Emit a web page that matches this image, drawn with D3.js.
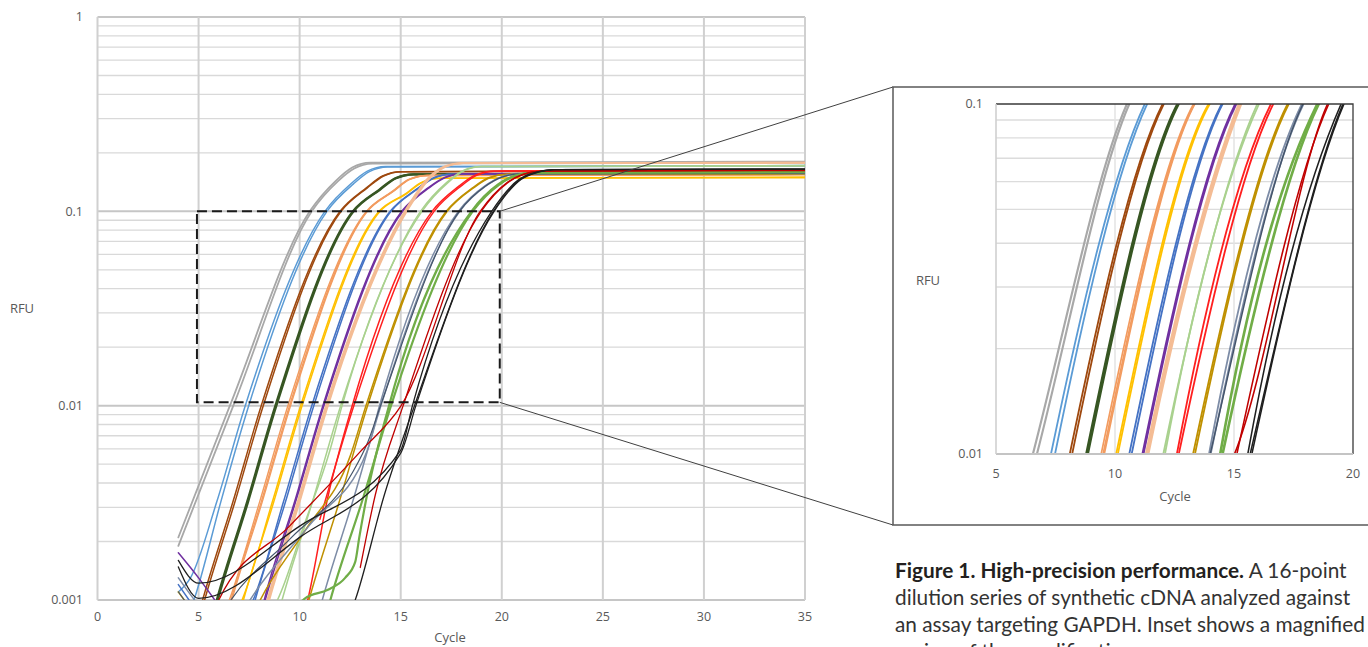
<!DOCTYPE html>
<html>
<head>
<meta charset="utf-8">
<script src="https://cdn.jsdelivr.net/npm/d3@7"></script>
<style>
  body { margin: 0; background: #fff; }
  svg { display: block; }
  .tick { font-family: 'Open Sans', sans-serif; font-size: 12.5px; fill: #595959; }
  .title { font-family: 'Open Sans', sans-serif; font-size: 13px; fill: #595959; }
  .caption { font-family: Lato, sans-serif; font-size: 20.8px; fill: #333; }
</style>
</head>
<body>
<svg id="chart" width="1368" height="647"></svg>
<script>

// amplification curves, [cycle, RFU] points, one array per replicate
const gray = [
	[[4,0.0021],[6.55,0.01],[10.5,0.1],[11.8,0.144],[12.6,0.168],[13.5,0.178],[35,0.180]],
	[[4,0.0019],[6.72,0.01],[10.6,0.1],[11.9,0.143],[12.7,0.166],[13.6,0.176],[35,0.178]]
];
const lightBlue = [
	[[4,0.0011],[4.6,0.0013],[5.9,0.0032],[7.31,0.01],[11.25,0.1],[12.55,0.139],[13.35,0.161],[14.25,0.170],[35,0.172]],
	[[4,0.0006],[4.9,0.0011],[6.1,0.0032],[7.48,0.01],[11.35,0.1],[12.65,0.138],[13.45,0.160],[14.35,0.169],[35,0.171]]
];
const brown = [
	[[4.8,0.0007],[5.2,0.001],[6.7,0.0032],[8.1,0.01],[12.0,0.1],[13.3,0.132],[14.1,0.152],[15.0,0.160],[35,0.162]],
	[[4.9,0.0007],[5.3,0.001],[6.8,0.0032],[8.2,0.01],[12.05,0.1],[13.35,0.132],[14.15,0.152],[15.05,0.160],[35,0.161]]
];
const darkGreen = [
	[[5.5,0.0007],[5.9,0.001],[7.4,0.0032],[8.8,0.01],[12.63,0.1],[13.93,0.129],[14.73,0.148],[15.63,0.155],[35,0.157]],
	[[5.55,0.0007],[5.95,0.001],[7.45,0.0032],[8.85,0.01],[12.67,0.1],[13.97,0.129],[14.77,0.148],[15.67,0.155],[35,0.157]]
];
const orange = [
	[[4,0.001],[4.6,0.0009],[5.6,0.0006],[6.52,0.001],[8.02,0.0032],[9.42,0.01],[13.3,0.1],[14.6,0.127],[15.4,0.146],[16.3,0.153],[35,0.155]],
	[[6.2,0.0007],[6.6,0.001],[8.1,0.0032],[9.5,0.01],[13.33,0.1],[14.63,0.127],[15.43,0.146],[16.33,0.153],[35,0.154]],
	[[6.25,0.0007],[6.65,0.001],[8.15,0.0032],[9.55,0.01],[13.35,0.1],[14.65,0.127],[15.45,0.146],[16.35,0.153],[35,0.155]]
];
const yellow = [
	[[4,0.0011],[4.6,0.0009],[5.6,0.0006],[7.15,0.001],[8.65,0.0032],[10.05,0.01],[13.93,0.1],[15.23,0.123],[16.03,0.141],[16.93,0.148],[35,0.150]],
	[[6.82,0.0007],[7.22,0.001],[8.72,0.0032],[10.12,0.01],[13.98,0.1],[15.28,0.123],[16.08,0.141],[16.98,0.148],[35,0.149]]
];
const blue = [
	[[4,0.0012],[5,0.00085],[6,0.0006],[7.7,0.001],[9.2,0.0032],[10.6,0.01],[14.48,0.1],[15.78,0.13],[16.58,0.148],[17.48,0.155],[35,0.157]],
	[[7.4,0.0007],[7.8,0.001],[9.3,0.0032],[10.7,0.01],[14.52,0.1],[15.82,0.13],[16.62,0.148],[17.52,0.155],[35,0.156]]
];
const purple = [
	[[4,0.00175],[5,0.0013],[5.8,0.001],[6.8,0.0007],[7.9,0.0007],[8.25,0.001],[9.75,0.0032],[11.15,0.01],[15.05,0.1],[16.35,0.132],[17.15,0.149],[18.05,0.156],[35,0.158]],
	[[7.9,0.0007],[8.3,0.001],[9.8,0.0032],[11.2,0.01],[15.1,0.1],[16.4,0.132],[17.2,0.149],[18.1,0.156],[35,0.158]]
];
const peach = [
	[[8.0,0.0007],[8.4,0.001],[9.9,0.0032],[11.3,0.01],[15.2,0.1],[16.4,0.150],[17.2,0.171],[18.0,0.177],[35,0.178]],
	[[8.05,0.0007],[8.45,0.001],[9.95,0.0032],[11.35,0.01],[15.25,0.1],[16.45,0.150],[17.25,0.171],[18.05,0.177],[35,0.178]],
	[[8.1,0.0007],[8.5,0.001],[10.0,0.0032],[11.4,0.01],[15.3,0.1],[16.5,0.150],[17.3,0.171],[18.1,0.177],[35,0.177]]
];
const lightGreen = [
	[[8.73,0.0007],[9.13,0.001],[10.63,0.0032],[12.03,0.01],[15.98,0.1],[17.28,0.141],[18.08,0.162],[18.98,0.170],[35,0.172]],
	[[8.3,0.0008],[8.9,0.001],[10.2,0.0024],[11.5,0.0059],[12.1,0.01],[16.05,0.1],[17.35,0.141],[18.15,0.162],[19.05,0.170],[35,0.171]]
];
const red = [
	[[10.0,0.0007],[10.4,0.001],[11.4,0.0034],[12.6,0.01],[16.55,0.1],[17.85,0.134],[18.65,0.153],[19.55,0.161],[35,0.163]],
	[[11.0,0.0026],[12.68,0.01],[16.65,0.1],[17.95,0.134],[18.75,0.153],[19.65,0.161],[35,0.163]]
];
const darkGold = [
	[[7.6,0.0008],[8.05,0.001],[10.3,0.0023],[12.5,0.0055],[13.28,0.01],[17.25,0.1],[18.55,0.132],[19.35,0.149],[20.25,0.155],[35,0.157]],
	[[10.06,0.0007],[10.46,0.001],[11.96,0.0032],[13.36,0.01],[17.3,0.1],[18.6,0.132],[19.4,0.149],[20.3,0.155],[35,0.156]]
];
const slate = [
	[[4,0.0013],[4.8,0.001],[5.6,0.0008],[7.0,0.0008],[7.55,0.001],[10.45,0.0024],[13.35,0.0059],[13.95,0.01],[17.85,0.1],[19.15,0.135],[19.95,0.150],[20.85,0.156],[35,0.158]],
	[[10.72,0.0007],[11.12,0.001],[12.62,0.0032],[14.02,0.01],[17.92,0.1],[19.22,0.135],[20.02,0.150],[20.92,0.156],[35,0.157]]
];
const navy = [
	[[4,0.0011],[4.7,0.0009],[6,0.0008],[6.6,0.001],[9.6,0.0021],[12.6,0.0045],[13.4,0.0066],[14.0,0.01],[17.9,0.1],[19.2,0.135],[20.0,0.150],[20.9,0.156],[35,0.157]]
];
const green = [
	[[9.8,0.0009],[10.27,0.00102],[11.4,0.00113],[12.25,0.0013],[12.75,0.00157],[12.95,0.0021],[13.34,0.0035],[14.42,0.01],[18.5,0.1],[19.8,0.137],[20.6,0.152],[21.5,0.158],[35,0.160]],
	[[11.12,0.0007],[11.52,0.001],[13.12,0.0033],[14.52,0.01],[18.56,0.1],[19.86,0.137],[20.66,0.152],[21.56,0.158],[35,0.159]]
];
const darkRed = [
	[[5.6,0.0008],[6.0,0.001],[9.5,0.0024],[13.0,0.0058],[15.02,0.01],[18.93,0.1],[20.23,0.140],[21.03,0.155],[21.93,0.161],[35,0.163]],
	[[13.0,0.00147],[13.75,0.0035],[15.12,0.01],[18.98,0.1],[20.28,0.140],[21.08,0.155],[21.98,0.161],[35,0.162]]
];
const black = [
	[[4,0.0016],[5,0.00122],[10,0.0024],[15,0.0059],[15.58,0.01],[19.5,0.1],[20.85,0.146],[21.7,0.159],[22.5,0.164],[35,0.165]],
	[[4,0.00148],[5,0.00102],[10,0.0021],[15,0.0057],[15.75,0.01],[19.62,0.1],[20.95,0.146],[21.8,0.159],[22.6,0.164],[35,0.165]],
	[[12.4,0.0008],[12.75,0.001],[14.2,0.0035],[15.68,0.01],[19.58,0.1],[20.9,0.146],[21.75,0.159],[22.55,0.164],[35,0.165]]
];

const levelData = [gray, lightBlue, brown, darkGreen, orange, yellow, blue, purple, peach,
	lightGreen, red, darkGold, slate, navy, green, darkRed, black];
const levelColors = ['#a8a8a8', '#5b9bd5', '#9e480e', '#375623', '#f29b5f', '#ffc000', '#4472c4', '#7030a0', '#f4bc94',
	'#a9d18e', '#ff1f1f', '#bf9000', '#7d8ca6', '#44546a', '#70ad47', '#c00000', '#1f1f1f'];
const levelWidths = [1.8, 1.5, 1.5, 2.2, 1.4, 1.5, 1.5, 1.5, 1.8, 1.5, 1.5, 1.5, 1.5, 1.2, 2.2, 1.3, 1.3];

const xTicks = [0, 5, 10, 15, 20, 25, 30, 35];
const yTicks = [0.001, 0.01, 0.1, 1];
const yTickLabels = ['0.001', '0.01', '0.1', '1'];
const insetXTicks = [5, 10, 15, 20];
const insetYTicks = [0.01, 0.1];
const insetYTickLabels = ['0.01', '0.1'];
const zoomCycles = [4.92, 19.9];
const zoomRfu = [0.0104, 0.1];

const captionLines = [
	['Figure 1. High-precision performance.', ' A 16-point'],
	['', 'dilution series of synthetic cDNA analyzed against'],
	['', 'an assay targeting GAPDH. Inset shows a magnified'],
	['', 'region of the amplification curves.']
];

const svg = d3.select('#chart');
const defs = svg.append('defs');

const mainX = d3.scaleLinear().domain([0, 35]).range([97.5, 805]);
const mainY = d3.scaleLog().domain([0.001, 1]).range([600, 17]);
const insetX = d3.scaleLinear().domain([5, 20]).range([996, 1353]);
const insetY = d3.scaleLog().domain([0.01, 0.1]).range([454, 104]);

const isMajor = v => Math.abs(Math.log10(v) - Math.round(Math.log10(v))) < 1e-9;

const drawCurves = (x, y, clipId, widthScale) => {
	const [x0, x1] = x.range();
	const [y0, y1] = y.range();
	defs.append('clipPath').attr('id', clipId)
		.append('rect')
		.attr('x', x0).attr('y', y1)
		.attr('width', x1 - x0).attr('height', y0 - y1);

	const line = d3.line()
		.x(d => x(d[0]))
		.y(d => y(d[1]))
		.curve(d3.curveMonotoneX);

	const g = svg.append('g').attr('clip-path', `url(#${clipId})`);
	levelData.forEach((reps, i) => {
		g.selectAll(null)
			.data(reps)
			.join('path')
			.attr('d', line)
			.attr('fill', 'none')
			.attr('stroke', levelColors[i])
			.attr('stroke-width', levelWidths[i] * widthScale)
			.attr('stroke-linejoin', 'round')
			.attr('stroke-linecap', 'round');
	});
};

// ---- main chart
const mainGrid = svg.append('g');

mainGrid.selectAll(null)
	.data(mainY.ticks().filter(v => !isMajor(v)))
	.join('line')
	.attr('x1', mainX(0)).attr('x2', mainX(35))
	.attr('y1', d => mainY(d)).attr('y2', d => mainY(d))
	.attr('stroke', '#d9d9d9')
	.attr('stroke-width', 1.3);

mainGrid.selectAll(null)
	.data(yTicks)
	.join('line')
	.attr('x1', mainX(0)).attr('x2', mainX(35))
	.attr('y1', d => mainY(d)).attr('y2', d => mainY(d))
	.attr('stroke', '#c6c6c6')
	.attr('stroke-width', 2);

mainGrid.selectAll(null)
	.data(xTicks)
	.join('line')
	.attr('x1', d => mainX(d)).attr('x2', d => mainX(d))
	.attr('y1', mainY(1)).attr('y2', mainY(0.001))
	.attr('stroke', '#d0d0d0')
	.attr('stroke-width', 2);

drawCurves(mainX, mainY, 'clip-main', 1);

svg.selectAll(null)
	.data(yTicks)
	.join('text')
	.attr('class', 'tick')
	.attr('x', 83)
	.attr('y', d => mainY(d))
	.attr('dy', '0.35em')
	.attr('text-anchor', 'end')
	.text((d, i) => yTickLabels[i]);

svg.selectAll(null)
	.data(xTicks)
	.join('text')
	.attr('class', 'tick')
	.attr('x', d => mainX(d))
	.attr('y', 617)
	.attr('dy', '0.35em')
	.attr('text-anchor', 'middle')
	.text(d => d);

svg.append('text').attr('class', 'title')
	.attr('x', 22).attr('y', 308).attr('dy', '0.35em')
	.attr('text-anchor', 'middle').text('RFU');

svg.append('text').attr('class', 'title')
	.attr('x', 450).attr('y', 637).attr('dy', '0.35em')
	.attr('text-anchor', 'middle').text('Cycle');

// zoom box and leader lines
const zx0 = mainX(zoomCycles[0]);
const zx1 = mainX(zoomCycles[1]);
const zyTop = mainY(zoomRfu[1]);
const zyBot = mainY(zoomRfu[0]);

svg.append('rect')
	.attr('x', zx0).attr('y', zyTop)
	.attr('width', zx1 - zx0).attr('height', zyBot - zyTop)
	.attr('fill', 'none')
	.attr('stroke', '#1a1a1a')
	.attr('stroke-width', 2)
	.attr('stroke-dasharray', '10,5');

const boxLeft = 893, boxTop = 87, boxBottom = 525;

svg.append('line')
	.attr('x1', zx1).attr('y1', zyTop).attr('x2', boxLeft).attr('y2', boxTop)
	.attr('stroke', '#404040').attr('stroke-width', 1);
svg.append('line')
	.attr('x1', zx1).attr('y1', zyBot).attr('x2', boxLeft).attr('y2', boxBottom)
	.attr('stroke', '#404040').attr('stroke-width', 1);

// ---- inset
svg.append('rect')
	.attr('x', boxLeft).attr('y', boxTop)
	.attr('width', 520).attr('height', boxBottom - boxTop)
	.attr('fill', '#fff')
	.attr('stroke', '#595959')
	.attr('stroke-width', 1.5);

const insetGrid = svg.append('g');

insetGrid.selectAll(null)
	.data(insetY.ticks().filter(v => !isMajor(v)))
	.join('line')
	.attr('x1', insetX(5)).attr('x2', insetX(20))
	.attr('y1', d => insetY(d)).attr('y2', d => insetY(d))
	.attr('stroke', '#dcdcdc')
	.attr('stroke-width', 1.4);

insetGrid.selectAll(null)
	.data([10, 15])
	.join('line')
	.attr('x1', d => insetX(d)).attr('x2', d => insetX(d))
	.attr('y1', insetY(0.1)).attr('y2', insetY(0.01))
	.attr('stroke', '#e3e3e3')
	.attr('stroke-width', 1.5);

drawCurves(insetX, insetY, 'clip-inset', 1.2);

// inset frame: dark on top and right, grey axes on left and bottom
svg.append('path')
	.attr('d', `M${insetX(5)},${insetY(0.1)}H${insetX(20)}V${insetY(0.01)}`)
	.attr('fill', 'none')
	.attr('stroke', '#3a3a3a')
	.attr('stroke-width', 1.3);
svg.append('line')
	.attr('x1', insetX(5)).attr('x2', insetX(20))
	.attr('y1', insetY(0.01)).attr('y2', insetY(0.01))
	.attr('stroke', '#c4c4c4').attr('stroke-width', 2);
svg.append('line')
	.attr('x1', insetX(5)).attr('x2', insetX(5))
	.attr('y1', insetY(0.1)).attr('y2', insetY(0.01))
	.attr('stroke', '#d0d0d0').attr('stroke-width', 1.6);

svg.selectAll(null)
	.data(insetYTicks)
	.join('text')
	.attr('class', 'tick')
	.attr('x', 983)
	.attr('y', d => insetY(d))
	.attr('dy', '0.35em')
	.attr('text-anchor', 'end')
	.text((d, i) => insetYTickLabels[i]);

svg.selectAll(null)
	.data(insetXTicks)
	.join('text')
	.attr('class', 'tick')
	.attr('x', d => insetX(d))
	.attr('y', 474)
	.attr('dy', '0.35em')
	.attr('text-anchor', 'middle')
	.text(d => d);

svg.append('text').attr('class', 'title')
	.attr('x', 928).attr('y', 280).attr('dy', '0.35em')
	.attr('text-anchor', 'middle').text('RFU');

svg.append('text').attr('class', 'title')
	.attr('x', 1175).attr('y', 496).attr('dy', '0.35em')
	.attr('text-anchor', 'middle').text('Cycle');

// ---- caption (the last line runs off the bottom edge, as in the source figure)
const caption = svg.append('text').attr('class', 'caption');
captionLines.forEach((parts, i) => {
	const y = 577.5 + i * 27;
	if (parts[0]) {
		caption.append('tspan')
			.attr('x', 895).attr('y', y)
			.attr('font-weight', 700)
			.style('fill', '#231f20')
			.text(parts[0]);
		caption.append('tspan').text(parts[1]);
	} else {
		caption.append('tspan')
			.attr('x', 895).attr('y', y)
			.text(parts[1]);
	}
});

</script>
</body>
</html>
